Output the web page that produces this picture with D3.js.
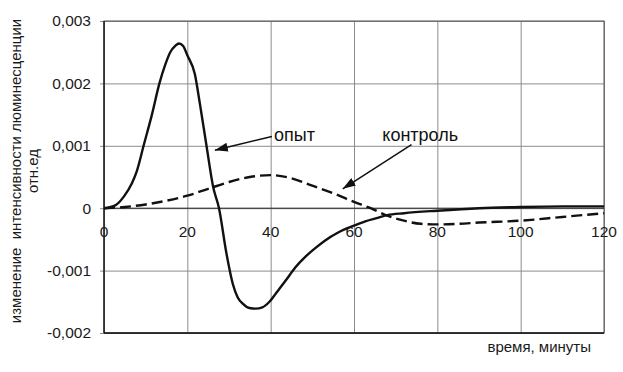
<!DOCTYPE html>
<html lang="ru">
<head>
<meta charset="UTF-8">
<title>Люминесценция</title>
<style>
    body { margin: 0; background: #fff; }
    svg { display: block; font-family: "Liberation Sans", Arial, sans-serif; }
    .grid line { stroke: #8c8c8c; stroke-width: 1; }
    .tick text { fill: #1a1a1a; }
</style>
</head>
<body>
<div id="chart"></div>
<script src="https://cdnjs.cloudflare.com/ajax/libs/d3/7.8.5/d3.min.js"></script>
<script>
// опыт (solid curve)
var expTime = [0, 2.8, 4.8, 6.7, 7.9, 9.5, 11.5, 13.3, 14.7, 15.9, 17.1, 18, 19, 20, 21.8, 23, 24.6, 26.2, 27.6,
    29.4, 30.9, 32.1, 33.3, 34.9, 36.4, 38, 39.7, 41.2, 43.6, 45.9, 48.3, 50.7, 53, 56.2, 60, 62.7, 65.9,
    68, 72, 80, 90, 100, 110, 120];
var expValue = [0, 0.00005, 0.00019, 0.0004, 0.0006, 0.001, 0.0015, 0.002, 0.0023, 0.0025, 0.0026, 0.00264, 0.0026, 0.00245, 0.00215, 0.00168, 0.001, 0.00034, 0,
    -0.00073, -0.00121, -0.00143, -0.00153, -0.0016, -0.00161, -0.00159, -0.0015, -0.00137, -0.00116, -0.00095, -0.00078, -0.00064, -0.00052, -0.00039, -0.00028, -0.00021, -0.00015,
    -0.00011, -0.00008, -0.00004, 0, 0.00002, 0.00003, 0.00003];

// контроль (dashed curve)
var ctrlTime = [0, 5, 10, 15, 20, 25, 30, 35, 40, 45, 50, 55, 60, 64, 68, 72, 76, 80, 85, 90, 100, 110, 120];
var ctrlValue = [0, 0.00002, 0.00006, 0.00012, 0.0002, 0.00031, 0.00042, 0.0005, 0.00053, 0.00048, 0.00036, 0.00024, 0.0001, 0, -0.00012, -0.0002, -0.00025, -0.00026, -0.00025, -0.00023, -0.0002, -0.00014, -0.00008];

var xTicks = [0, 20, 40, 60, 80, 100, 120];
var yTicks = [-0.002, -0.001, 0, 0.001, 0.002, 0.003];

// labels with arrows, in data units: [text, textT, textV, fromT, fromV, toT, toV]
var notes = [
    ['опыт', 40.8, 0.00107, 40.3, 0.00115, 26.6, 0.00093],
    ['контроль', 66.8, 0.00107, 73.8, 0.00102, 57.3, 0.00031]
];

var width = 623, height = 372;
var margin = { top: 21, right: 19, bottom: 39, left: 104 };
var w = width - margin.left - margin.right;
var h = height - margin.top - margin.bottom;

var svg = d3.select('#chart').append('svg')
    .attr('width', width)
    .attr('height', height);

svg.append('defs').append('marker')
    .attr('id', 'head')
    .attr('viewBox', '0 0 13 9')
    .attr('refX', 13)
    .attr('refY', 4.5)
    .attr('markerWidth', 13)
    .attr('markerHeight', 9)
    .attr('markerUnits', 'userSpaceOnUse')
    .attr('orient', 'auto')
    .append('path')
    .attr('d', 'M0,0L13,4.5L0,9Z')
    .attr('fill', '#111');

var g = svg.append('g').attr('transform', 'translate(' + margin.left + ',' + margin.top + ')');

var x = d3.scaleLinear().domain([0, 120]).range([0, w]);
var y = d3.scaleLinear().domain([-0.002, 0.003]).range([h, 0]);

var fmt = function (d) { return d === 0 ? '0' : d3.format('.3f')(d).replace('.', ',').replace('−', '-'); };

// horizontal grid + y labels
var yAxis = g.append('g').attr('class', 'grid')
    .call(d3.axisLeft(y).tickValues(yTicks).tickSize(-w - 4).tickFormat(fmt).tickPadding(10))
    .attr('transform', 'translate(-4,0)');
yAxis.select('.domain').remove();
yAxis.selectAll('text').attr('font-size', 15.5).attr('x', -9);

// vertical grid
var xGrid = g.append('g').attr('class', 'grid')
    .call(d3.axisBottom(x).tickValues(xTicks).tickSize(h).tickFormat(''));
xGrid.select('.domain').remove();

// frame
g.append('rect')
    .attr('width', w).attr('height', h)
    .attr('fill', 'none').attr('stroke', '#555').attr('stroke-width', 1);
g.append('line').attr('x1', 0).attr('x2', 0).attr('y1', 0).attr('y2', h)
    .attr('stroke', '#111').attr('stroke-width', 1.3);
g.append('line').attr('x1', 0).attr('x2', w).attr('y1', h).attr('y2', h)
    .attr('stroke', '#111').attr('stroke-width', 1.3);
g.append('line').attr('x1', 0).attr('x2', w).attr('y1', y(0)).attr('y2', y(0))
    .attr('stroke', '#222').attr('stroke-width', 1);

// x labels sit under the zero line
g.append('g').selectAll('text')
    .data(xTicks)
    .join('text')
    .attr('x', d => x(d))
    .attr('y', y(0) + 29)
    .attr('text-anchor', 'middle')
    .attr('font-size', 15.5)
    .attr('fill', '#1a1a1a')
    .text(d => d);

var line = d3.line().curve(d3.curveMonotoneX);

g.append('path')
    .datum(ctrlTime.map((t, i) => [x(t), y(ctrlValue[i])]))
    .attr('d', line)
    .attr('fill', 'none')
    .attr('stroke', '#111')
    .attr('stroke-width', 2.4)
    .attr('stroke-dasharray', '11,5');

g.append('path')
    .datum(expTime.map((t, i) => [x(t), y(expValue[i])]))
    .attr('d', line)
    .attr('fill', 'none')
    .attr('stroke', '#111')
    .attr('stroke-width', 2.4);

// annotations
notes.forEach(function (n) {
    g.append('line')
        .attr('x1', x(n[3])).attr('y1', y(n[4]))
        .attr('x2', x(n[5])).attr('y2', y(n[6]))
        .attr('stroke', '#111').attr('stroke-width', 1.5)
        .attr('marker-end', 'url(#head)');
    g.append('text')
        .attr('x', x(n[1])).attr('y', y(n[2]))
        .attr('font-size', 18)
        .attr('fill', '#111')
        .text(n[0]);
});

// axis titles
svg.append('text')
    .attr('x', 591).attr('y', 352)
    .attr('text-anchor', 'end')
    .attr('font-size', 15)
    .attr('fill', '#1a1a1a')
    .text('время, минуты');

var yTitle = svg.append('text')
    .attr('transform', 'translate(0,171) rotate(-90)')
    .attr('text-anchor', 'middle')
    .attr('font-size', 15)
    .attr('fill', '#1a1a1a')
    .style('white-space', 'pre');
yTitle.append('tspan').attr('x', 0).attr('y', 21).text('изменение  интенсивности люминесценции');
yTitle.append('tspan').attr('x', 0).attr('y', 38).text('отн.ед');
</script>
</body>
</html>
